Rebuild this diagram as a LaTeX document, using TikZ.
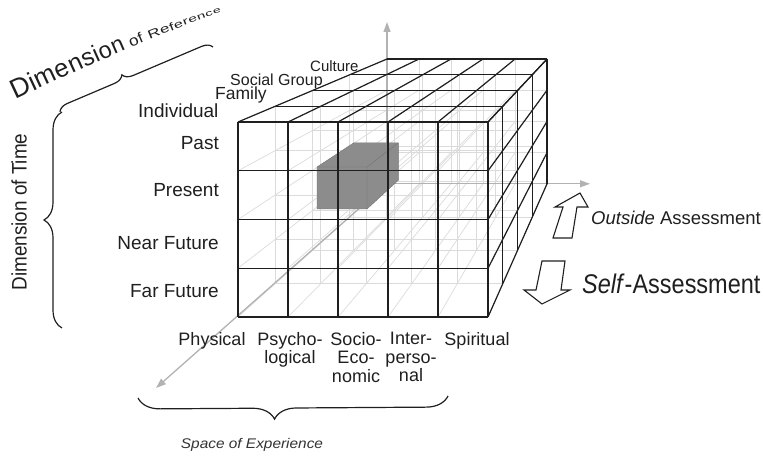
\documentclass[tikz,border=0pt]{standalone}
\usepackage{fontspec}
\setmainfont{Liberation Sans}
\usetikzlibrary{decorations.pathreplacing,arrows.meta,calc}
\begin{document}
\begin{tikzpicture}[x=1pt,y=-1pt,
  hid/.style={draw=black!14, line width=0.7pt},
  edge/.style={draw=black!88, line width=1.2pt},
  axis/.style={draw=black!30, line width=1.3pt, -{Triangle[length=10pt,width=7pt]}},
  lbl/.style={inner sep=0pt, text=black!88},
  bracepath/.style={draw=black!88, line width=1.2pt, decorate},
  blockarrow/.style={draw=black!88, fill=white, line width=1.1pt, line join=miter},
  cell/.style={fill=black!45}]
\useasboundingbox (0,0) rectangle (763,457);

% perspective block: vanishing point (652,-53), front face 238..488 x 122..317,
% layer k is the front face scaled by 1-0.09k towards the vanishing point
\def\vx{652}\def\vy{-53}

% hidden lattice: every layer plane and the depth lines
\foreach \k in {0,...,4}{
  \pgfmathsetmacro\s{1-0.09*\k}
  \foreach \i in {0,...,5}
    \draw[hid] ({\vx+\s*(50*\i-414)},{\vy+\s*175}) -- ({\vx+\s*(50*\i-414)},{\vy+\s*370});
  \foreach \j in {0,...,4}
    \draw[hid] ({\vx-\s*414},{\vy+\s*(175+48.75*\j)}) -- ({\vx-\s*164},{\vy+\s*(175+48.75*\j)});
}
\foreach \i in {0,...,5}
  \foreach \j in {0,...,4}
    \draw[hid] ({\vx+50*\i-414},{\vy+175+48.75*\j}) -- ({\vx+0.64*(50*\i-414)},{\vy+0.64*(175+48.75*\j)});

% axes from the rear lower corner
\coordinate (O) at ({\vx-0.64*414},{\vy+0.64*370});
\coordinate (vtip) at ({\vx-0.64*414},22);
\coordinate (htip) at (590,{\vy+0.64*370});
\coordinate (dtip) at (156,388);
\draw[axis] (O) -- (vtip);
\draw[axis] (O) -- (htip);
\draw[axis] (O) -- (dtip);

% the highlighted cell
\coordinate (c1) at (317,167);
\coordinate (c2) at (367,167);
\coordinate (c3) at (367,209);
\coordinate (c4) at (317,209);
\coordinate (c5) at ($(\vx,\vy)!0.89!(c1)$);
\coordinate (c6) at ($(\vx,\vy)!0.89!(c2)$);
\coordinate (c7) at ($(\vx,\vy)!0.89!(c3)$);
\fill[cell] (c1) -- (c5) -- (c6) -- (c7) -- (c3) -- (c4) -- cycle;
\draw[draw=black!55, line width=0.4pt] (c1) -- (c5) -- (c6) -- (c7) -- (c3) -- (c4) -- cycle
  (c1) -- (c2) -- (c6) (c2) -- (c3);

% visible edges: front face
\foreach \i in {0,...,5}
  \draw[edge] ({238+50*\i},122) -- ++(0,195);
\foreach \j in {0,...,4}
  \draw[edge] (238,{122+48.75*\j}) -- ++(250,0);
% top face
\foreach \i in {0,...,5}
  \draw[edge] ({238+50*\i},122) -- ({\vx+0.64*(50*\i-414)},{\vy+0.64*175});
\foreach \k in {1,...,4}{
  \pgfmathsetmacro\s{1-0.09*\k}
  \draw[edge] ({\vx-\s*414},{\vy+\s*175}) -- ({\vx-\s*164},{\vy+\s*175});
}
% right face
\foreach \j in {0,...,4}
  \draw[edge] (488,{122+48.75*\j}) -- ({\vx-0.64*164},{\vy+0.64*(175+48.75*\j)});
\foreach \k in {1,...,4}{
  \pgfmathsetmacro\s{1-0.09*\k}
  \draw[edge] ({\vx-\s*164},{\vy+\s*175}) -- ({\vx-\s*164},{\vy+\s*370});
}

% time labels
\node[lbl, anchor=base east, font=\fontsize{19}{21}\selectfont] (past) at (219,150) {Past};
\node[lbl, anchor=base east, font=\fontsize{19}{21}\selectfont] (present) at (219,197) {Present};
\node[lbl, anchor=base east, font=\fontsize{19}{21}\selectfont] (nearfut) at (219,249) {Near Future};
\node[lbl, anchor=base east, font=\fontsize{19}{21}\selectfont] (farfut) at (219,297) {Far Future};

% reference labels
\node[lbl, anchor=base west, font=\fontsize{19}{21}\selectfont] (indiv) at (138,118) {Individual};
\node[lbl, anchor=base west, font=\fontsize{17.5}{20}\selectfont] (family) at (215,100) {Family};
\node[lbl, anchor=base west, font=\fontsize{16}{18}\selectfont] (social) at (230,86) {Social Group};
\node[lbl, anchor=base west, font=\fontsize{15}{17}\selectfont] (culture) at (310,72) {Culture};

% experience labels
\node[lbl, anchor=base, font=\fontsize{18}{18.5}\selectfont] (phys) at (212,345) {Physical};
\node[lbl, anchor=north, align=center, font=\fontsize{18}{18.5}\selectfont] (psych) at (290,332) {Psycho-\\logical};
\node[lbl, anchor=north, align=center, font=\fontsize{18}{18.5}\selectfont] (socio) at (356,332) {Socio-\\Eco-\\nomic};
\node[lbl, anchor=north, align=center, font=\fontsize{18}{18.5}\selectfont] (inter) at (411,332) {Inter-\\perso-\\nal};
\node[lbl, anchor=base, font=\fontsize{18}{18.5}\selectfont] (spirit) at (477,345) {Spiritual};

% braces
\draw[bracepath, decoration={brace, amplitude=18pt}] (62,328) -- (62,112);
\draw[bracepath, decoration={brace, amplitude=10pt, aspect=0.43}] (60,112) -- (213,47);
\draw[bracepath, decoration={brace, amplitude=22pt, aspect=0.56}] (448,396) -- (138,398);

\node[lbl, rotate=90, font=\fontsize{21}{23}\selectfont] (timelbl) at (19,212) {\scalebox{0.9}[1]{Dimension of Time}};
\node[lbl, font=\fontsize{14}{16}\selectfont\itshape, text=black!80] (spacelbl) at (252,445) {\scalebox{1.1}[1]{Space of Experience}};

% receding title along the upper brace, letter by letter
\node[lbl, rotate=25, anchor=base west, font=\fontsize{27}{27}\selectfont] (ref1) at (15,100) {D};
\foreach \c/\s/\xs/\g/\a [count=\n from 2] in {
  i/26.5/1/0/25, m/26/1/0/25, e/25.5/1/0/24.5, n/25/1/0/24.5, s/24.5/1/0/24,
  i/24/1/0/24, o/23.5/1/0/23.5, n/23/1/0/23.5,
  o/15/1.15/5/23, f/14.5/1.15/0/23,
  R/12/1.45/5/22, e/11.5/1.5/0/22, f/11/1.5/0/21.5, e/10.5/1.55/0/21.5, r/10/1.6/0/21,
  e/9.5/1.65/0/21, n/9/1.7/0/20.5, c/8.5/1.75/0/20.5, e/8/1.8/0/20}{
  \pgfmathtruncatemacro\p{\n-1}
  \node[lbl, rotate=\a, anchor=base west, font=\fontsize{\s}{\s}\selectfont] (ref\n)
    at ($(ref\p.base east)+(-\a:\g)$) {\scalebox{\xs}[1]{\c}};
}

% assessment arrows and labels
\draw[blockarrow] (580,193) -- (588,207) -- (577,207) -- (572,238) -- (553,238) -- (563,207) -- (555,207) -- cycle;
\draw[blockarrow] (542,261) -- (565,261) -- (561,290) -- (570,290) -- (542,304) -- (524,290) -- (536,290) -- cycle;
\node[lbl, anchor=base west, font=\fontsize{18.5}{20}\selectfont] (outside) at (591,225) {\textit{Outside} Assessment};
\node[lbl, anchor=base west, font=\fontsize{27}{29}\selectfont] (selfas) at (582,293) {\scalebox{0.87}[1]{\textit{Self}-Assessment}};
\end{tikzpicture}
\end{document}
